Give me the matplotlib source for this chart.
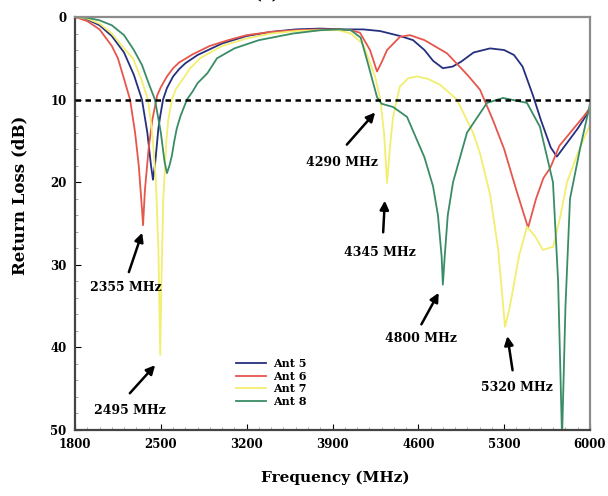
import matplotlib
matplotlib.use("Agg")
import matplotlib.pyplot as plt
from matplotlib.ticker import MultipleLocator

plt.rcParams['font.family'] = ['DejaVu Serif']
plt.rcParams['font.weight'] = 'bold'

# Return loss curves (frequency in MHz, loss in dB)
ant5_f = [1800, 1900, 2000, 2100, 2200, 2280, 2346, 2390, 2420, 2436, 2455, 2480, 2495, 2518,
          2550, 2600, 2650, 2700, 2800, 3000, 3200, 3400, 3600, 3800, 4000, 4150, 4288, 4450,
          4557, 4650, 4720, 4800, 4880, 4950, 5050, 5185, 5300, 5380, 5450, 5535, 5600, 5680,
          5730, 5800, 5900, 6000]
ant5_db = [0.0, 0.3, 1.0, 2.3, 4.3, 7.0, 10.0, 14.0, 18.0, 19.7, 17.5, 13.5, 12.0, 10.0,
           8.6, 7.2, 6.3, 5.6, 4.6, 3.2, 2.3, 1.8, 1.5, 1.4, 1.5, 1.5, 1.7, 2.3,
           2.8, 4.0, 5.3, 6.2, 6.0, 5.4, 4.3, 3.8, 4.0, 4.6, 6.0, 9.5, 12.5, 15.8,
           16.9, 15.5, 13.5, 11.2]

ant6_f = [1800, 1900, 2000, 2100, 2150, 2200, 2249, 2290, 2320, 2345, 2355, 2370, 2400, 2430,
          2470, 2500, 2550, 2600, 2650, 2762, 2900, 3050, 3200, 3400, 3600, 3800, 3950, 4050,
          4124, 4206, 4263, 4300, 4345, 4450, 4532, 4650, 4834, 5000, 5103, 5209, 5300, 5400,
          5495, 5560, 5620, 5675, 5750, 5850, 5950, 6000]
ant6_db = [0.0, 0.5, 1.5, 3.5, 5.0, 7.5, 10.0, 14.0, 18.0, 23.0, 25.2, 21.0, 16.0, 12.5,
           9.5, 8.5, 7.2, 6.2, 5.5, 4.5, 3.5, 2.8, 2.2, 1.8, 1.6, 1.5, 1.5, 1.6,
           1.9, 4.0, 6.6, 5.5, 4.0, 2.4, 2.2, 2.8, 4.4, 7.0, 8.8, 12.5, 16.0, 21.0,
           25.5, 22.0, 19.5, 18.3, 15.6, 13.8, 12.0, 11.0]

ant7_f = [1800, 1900, 2000, 2100, 2200, 2273, 2340, 2395, 2430, 2460, 2480, 2495, 2505, 2520,
          2545, 2560, 2590, 2620, 2680, 2740, 2819, 3000, 3200, 3400, 3600, 3800, 3950, 4050,
          4150, 4247, 4290, 4320, 4345, 4370, 4395, 4450, 4520, 4590, 4680, 4777, 4915, 5046,
          5103, 5185, 5250, 5307, 5340, 5372, 5420, 5486, 5550, 5617, 5700, 5760, 5812, 5900,
          6000]
ant7_db = [0.0, 0.2, 0.8, 2.0, 3.8, 5.0, 7.5, 10.0, 14.0, 20.0, 28.0, 40.9, 32.0, 22.0,
           15.0, 12.5, 10.0, 8.8, 7.5, 6.2, 5.0, 3.5, 2.6, 2.0, 1.7, 1.6, 1.6, 2.0,
           3.3, 7.2, 10.0, 14.0, 20.1, 15.5, 12.0, 8.4, 7.4, 7.2, 7.5, 8.2, 10.0, 14.0,
           16.5, 21.5, 28.0, 37.5, 35.5, 33.0, 29.0, 25.4, 26.5, 28.2, 27.8, 24.0, 20.0, 16.5,
           13.0]

ant8_f = [1800, 1900, 2000, 2100, 2200, 2280, 2346, 2400, 2452, 2500, 2530, 2550, 2570, 2590,
          2610, 2630, 2660, 2713, 2760, 2800, 2880, 2958, 3100, 3300, 3578, 3800, 3950, 4050,
          4130, 4181, 4263, 4300, 4395, 4508, 4650, 4720, 4760, 4790, 4800, 4815, 4840, 4883,
          4997, 5160, 5291, 5486, 5592, 5698, 5740, 5772, 5800, 5837, 5918, 5984, 6000]
ant8_db = [0.0, 0.1, 0.4, 1.0, 2.2, 4.0, 5.8, 8.0, 10.0, 14.0, 17.5, 18.9, 18.0, 16.8,
           15.0, 13.5, 12.0, 10.0, 9.0, 8.0, 6.8, 5.0, 3.8, 2.8, 2.0, 1.6, 1.5, 1.6,
           2.5, 5.2, 9.7, 10.5, 10.9, 12.1, 17.0, 20.5, 24.0, 29.0, 32.4, 29.0, 24.0, 20.0,
           14.0, 10.4, 9.8, 10.4, 13.3, 20.0, 32.0, 51.0, 35.0, 22.0, 16.0, 11.6, 10.5]

labels = ['Ant 5', 'Ant 6', 'Ant 7', 'Ant 8']
colors = ['#25307f', '#e6564c', '#f2ee6e', '#3a8c66']

# annotations: text, text position, arrow tail, arrow tip
notes = ['2355 MHz', '2495 MHz', '4290 MHz', '4345 MHz', '4800 MHz', '5320 MHz']
note_xy = [(2216, 32.8), (2249, 47.6), (3977, 17.6), (4287, 28.5), (4622, 38.9), (5405, 44.8)]
tail_xy = [(2232, 31.2), (2232, 45.8), (4002, 15.7), (4312, 26.4), (4614, 37.5), (5372, 43.1)]
tip_xy = [(2355, 25.8), (2469, 41.9), (4263, 11.3), (4328, 21.9), (4777, 33.1), (5323, 38.3)]

fig = plt.figure(figsize=(6.08, 4.96), dpi=100)
ax = fig.add_axes([75 / 608, 1 - 430 / 496, 515 / 608, 413 / 496])

curves = [(ant5_f, ant5_db), (ant6_f, ant6_db), (ant7_f, ant7_db), (ant8_f, ant8_db)]
for (f, db), lab, c in zip(curves, labels, colors):
    ax.plot(f, db, color=c, lw=1.3, label=lab)

ax.axhline(10, color='k', lw=1.8, ls=(0, (2.2, 1.8)), zorder=5)

for txt, pos, tail, tip in zip(notes, note_xy, tail_xy, tip_xy):
    ax.annotate('', xy=tip, xytext=tail,
                arrowprops=dict(arrowstyle='-|>', color='k', lw=1.8, mutation_scale=13))
    ax.text(pos[0], pos[1], txt, ha='center', va='center', fontsize=9, fontweight='bold')

ax.set_xlim(1800, 6000)
ax.set_ylim(50, 0)
ax.set_xticks(range(1800, 6001, 700))
ax.set_yticks(range(0, 51, 10))
ax.xaxis.set_minor_locator(MultipleLocator(100))
ax.yaxis.set_minor_locator(MultipleLocator(2))
ax.tick_params(direction='in', which='both', labelsize=8.5, pad=6)
ax.tick_params(which='major', length=4)
ax.tick_params(which='minor', length=2.5, color='#999999')

for side in ['left', 'bottom']:
    ax.spines[side].set_linewidth(1.6)
    ax.spines[side].set_color('#444444')
for side in ['top', 'right']:
    ax.spines[side].set_linewidth(1.6)
    ax.spines[side].set_color('#8c8c8c')

fig.text(335 / 608, 1 - 478 / 496, 'Frequency (MHz)', ha='center', va='center',
         fontsize=11, fontweight='bold')
fig.text(20 / 608, 1 - 195 / 496, 'Return Loss (dB)', ha='center', va='center',
         rotation=90, fontsize=12, fontweight='bold')
# panel tag sits mostly above the crop, as in the source
fig.text(267 / 608, 1 - 3 / 496, '(a)', ha='center', va='bottom', fontsize=12)

ax.legend(loc='upper left', bbox_to_anchor=(236 / 608, 1 - 358 / 496),
          bbox_transform=fig.transFigure, frameon=False, fontsize=8,
          handlelength=2.7, handletextpad=0.6, labelspacing=0.15,
          borderpad=0, borderaxespad=0)

fig.savefig('out.png', dpi=100)
